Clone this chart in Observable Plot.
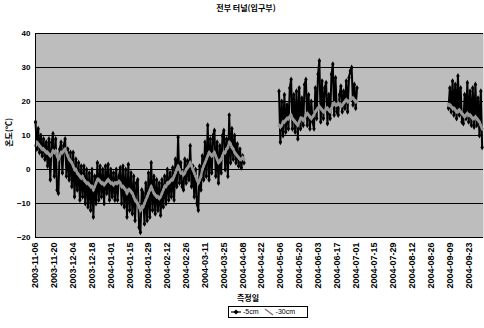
<!DOCTYPE html>
<html><head><meta charset="utf-8">
<script src="https://cdn.jsdelivr.net/npm/d3@7"></script>
<script src="https://cdn.jsdelivr.net/npm/@observablehq/plot@0.6"></script>
<style>
body{margin:0;background:#fff;font-family:"Liberation Sans",Arial,sans-serif;}
#wrap{position:relative;width:484px;height:328px;overflow:hidden;}
#title{position:absolute;top:2px;left:4px;width:484px;text-align:center;font-size:8px;font-weight:bold;font-family:"Noto Sans CJK KR",sans-serif;}
#ylab{position:absolute;left:4px;top:118px;font-size:8px;font-weight:bold;font-family:"Noto Sans CJK KR",sans-serif;writing-mode:vertical-rl;text-orientation:sideways;transform:rotate(180deg);line-height:10px;}
#xlab{position:absolute;left:228px;top:292px;width:40px;text-align:center;font-size:8px;font-weight:bold;font-family:"Noto Sans CJK KR",sans-serif;}
#legend{position:absolute;left:228px;top:306px;width:76px;height:10px;border:1px solid #000;font-size:7px;line-height:10px;display:flex;align-items:center;gap:2px;padding-left:2px;box-sizing:content-box;}
#chart{position:absolute;left:0;top:0;}
</style></head>
<body><div id="wrap">
<div id="chart"></div>
<div id="title">전부 터널(입구부)</div>
<div id="ylab">온도(℃)</div>
<div id="xlab">측정일</div>
<div id="legend"></div>
</div>
<script>
const seriesNames = ["-5cm", "-30cm"];
const yTicks = [-20, -10, 0, 10, 20, 30, 40];
const xTickLabels = ["2003-11-06","2003-11-20","2003-12-04","2003-12-18","2004-01-01","2004-01-15","2004-01-29","2004-02-12","2004-02-26","2004-03-11","2004-03-25","2004-04-08","2004-04-22","2004-05-06","2004-05-20","2004-06-03","2004-06-17","2004-07-01","2004-07-15","2004-07-29","2004-08-12","2004-08-26","2004-09-09","2004-09-23"];
const xDomain = ["2003-11-06", "2004-10-04"];

// measurement periods (daily readings starting at these dates)
const periodStarts = ["2003-11-06", "2004-05-05", "2004-09-08"];

const s5_p1 = [14,6,12,5,10,4,9,3,8,1,
 9,-3,8,10.5,-2,9,-6,-7,6,8,
 -1,7,9,-2,6,-3,5,-5,5,-8,
 3,-6,2,-9,1,-8,1,-10,0,-11,
 -1,-12,0,-14,-2,-10,2,-9,1,-8,
 0,-10,1,-7,1.5,-9,0,-8,-1,-9,
 0,-9,-2,0.5,-10,1,-11,0,-14,1.5,
 -12,-1,-13,-2,-15,-4,-3,-17,-18.5,-6,
 -7,-16,-4,-15,-1,-14,2,-12,-2,-13,
 -3,-12,-4,-13.5,-3,-11,-2,-10,0,-9,
 -1,-8,0.5,-9,3,-5,9.5,-4,2,-5,
 -6,3,-4,2.5,-3,7,-5,1,-8,0,
 -10,-12,1,-6,4,-3,8,-2,13,-3,
 9,-1,10,11.5,-2,8,-4,7,-1,10,
 11.5,0,9,-2,16,2,12,3,10,2,
 7.5,1,6,0.5,4,2];
const s30_p1 = [7,8,7.5,7,6.5,6,6,5.5,5,5,
 4.5,4,4.5,5.5,5,5.5,4,3,4,5,
 5,5.5,6,5,4,3,2.5,2,1,0,
 0,-1,-1.5,-2,-2.5,-2,-3,-3.5,-4,-4,
 -4.5,-5,-5,-6,-5,-4,-3,-3,-3.5,-4,
 -4,-4.5,-4,-3.5,-3,-3.5,-4,-4,-4.5,-4,
 -4,-4,-3.5,-4,-5,-5,-5.5,-6,-7,-6,
 -6,-6.5,-7,-8,-9,-9.5,-10,-11,-12,-11,
 -11,-10,-9,-8,-7,-6,-5,-6,-7,-7.5,
 -8,-8,-8.5,-8,-7,-6,-5,-5,-4,-4,
 -3.5,-3,-3,-2,-1,0,1,0,-1,-1,
 -1.5,-1,0,0.5,1,2,1,0,-1,-2,
 -3,-4,-3,-2,0,1,2,3,4,5,
 4.5,4,4.5,5,4,3,2,2.5,3,4,
 5,5,6,6.5,8,7.5,6.5,6,5,4.5,
 4,3.5,3,3,3.5,3];
const s5_p2 = [23,8,20,10,22,11,19,12,24,26.5,
 12,22,11,23,9,24,12,21,13,25,
 26.5,13,22,12,20,14,12,24,15,28,
 32,14,26,15,24,25.5,13.5,22,15,28,
 31,16,27,17,16,22,24.5,17,23,18,
 26,17,27,29,30,19,25,18,24];
const s30_p2 = [13,12.5,13,14,14,14.5,15,15,15.5,16,
 15,14.5,14,13.5,13,14,15,15,14.5,15,
 16,16.5,16,15.5,15,15.5,16,17,17.5,18,
 18.5,18,17.5,17,17,18,18,17.5,17,18,
 19,19.5,19,19,19.5,19,18.5,19,19.5,20,
 20.5,20,20,20.5,21,21,20.5,20,20];
const s5_p3 = [18,24,17,26,16,25,15,27.5,16,24,
 14,13.5,22,15,25.5,14,23,13,24,12.5,
 25,13,21,10,23,6.5];
const s30_p3 = [19,19,18.5,18,18,17.5,17,17,17.5,17,
 16.5,16,15.5,16,16.5,16,16,15.5,15,15,
 15.5,15,14.5,14,13,12];

const parse = s => new Date(s + "T00:00:00Z");
function build(vals, p) {
  const st = parse(periodStarts[p]);
  return vals.map((v, i) => ({date: d3.utcDay.offset(st, i), v, seg: p}));
}
const d5 = [...build(s5_p1,0), ...build(s5_p2,1), ...build(s5_p3,2)];
const d30 = [...build(s30_p1,0), ...build(s30_p2,1), ...build(s30_p3,2)];
const xTicks = xTickLabels.map(parse);

const chart = Plot.plot({
  width: 484, height: 306,
  marginTop: 33, marginBottom: 69, marginLeft: 35, marginRight: 1,
  style: {fontFamily: "'Liberation Sans', Arial, sans-serif", fontWeight: "bold", color: "#000", background: "transparent"},
  x: {type: "utc", domain: xDomain.map(parse)},
  y: {domain: [-20, 40]},
  marks: [
    Plot.frame({fill: "#bdbdbd", stroke: null}),
    Plot.gridY(yTicks, {stroke: "#000", strokeOpacity: 1, strokeWidth: 1}),
    Plot.line(d5, {x: "date", y: "v", z: "seg", stroke: "#000", strokeWidth: 2}),
    Plot.dot(d5, {x: "date", y: "v", symbol: "diamond", r: 1.8, fill: "#000"}),
    Plot.line(d30, {x: "date", y: "v", z: "seg", stroke: "#8a8a8a", strokeWidth: 2.6}),
    Plot.dot(d30, {x: "date", y: "v", symbol: "diamond", r: 1.6, fill: "#999"}),
    Plot.ruleX([parse(xDomain[0])], {stroke: "#000", strokeWidth: 1}),
    Plot.ruleY([-20], {stroke: "#000", strokeWidth: 1}),
    Plot.axisY({ticks: yTicks, tickSize: 0, tickPadding: 5, fontSize: 8, label: null}),
    Plot.axisX({ticks: xTicks, tickFormat: d3.utcFormat("%Y-%m-%d"), tickRotate: -90, tickSize: 0, tickPadding: 5, fontSize: 9, label: null})
  ]
});
document.getElementById("chart").appendChild(chart);

// legend
const lg = document.getElementById("legend");
lg.innerHTML =
  `<svg width="10" height="8"><line x1="0" y1="4" x2="10" y2="4" stroke="#000" stroke-width="1.2"/><path d="M5 1.5 L7.5 4 L5 6.5 L2.5 4Z" fill="#000"/></svg><span>${seriesNames[0]}</span>` +
  `<svg width="10" height="8" style="margin-left:3px"><line x1="1" y1="1" x2="9" y2="7" stroke="#777" stroke-width="1.4"/></svg><span>${seriesNames[1]}</span>`;
</script>
</body></html>
